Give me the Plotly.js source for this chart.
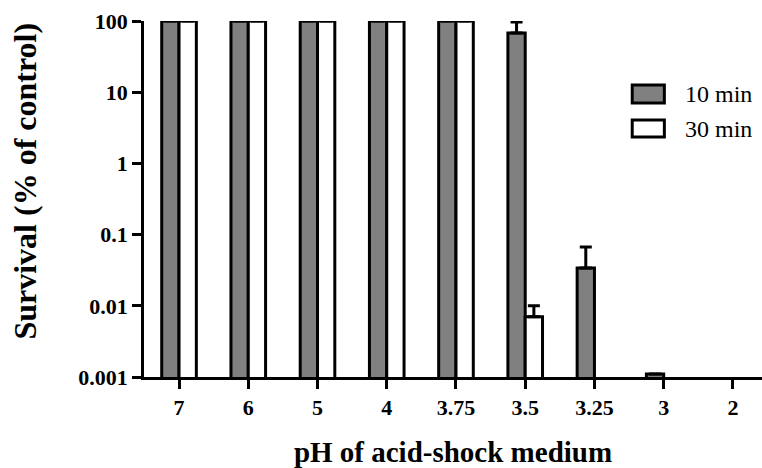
<!DOCTYPE html>
<html>
<head>
<meta charset="utf-8">
<script src="https://cdn.plot.ly/plotly-3.0.1.min.js"></script>
</head>
<body style="margin:0">
<div id="chart"></div>
<script>
// Data
var phLabels = ['7', '6', '5', '4', '3.75', '3.5', '3.25', '3', '2'];
var seriesNames = ['10 min', '30 min'];
var survival10 = [100, 100, 100, 100, 100, 68, 0.034, 0.0011, null];
var survival30 = [100, 100, 100, 100, 100, 0.0070, null, null, null];
var errUp10 = [null, null, null, null, null, 29, 0.033, null, null];
var errUp30 = [null, null, null, null, null, 0.003, null, null, null];
var errDown = [0, 0, 0, 0, 0, 0, 0, 0, 0];
var yTickVals = [0.001, 0.01, 0.1, 1, 10, 100];
var yTickText = ['0.001', '0.01', '0.1', '1', '10', '100'];
var xTitle = 'pH of acid-shock medium';
var yTitle = 'Survival (% of control)';

var FAMILY = 'Liberation Serif';
var fillColors = ['#808080', '#ffffff'];

function errStyle(up) {
  return {
    type: 'data', symmetric: false, array: up, arrayminus: errDown,
    color: '#000000', thickness: 3, width: 6, visible: true
  };
}

var traces = [
  {
    type: 'bar', name: seriesNames[0], x: phLabels, y: survival10,
    marker: { color: fillColors[0], line: { color: '#000000', width: 3 } },
    error_y: errStyle(errUp10), showlegend: false
  },
  {
    type: 'bar', name: seriesNames[1], x: phLabels, y: survival30,
    marker: { color: fillColors[1], line: { color: '#000000', width: 3 } },
    error_y: errStyle(errUp30), showlegend: false
  }
];

// Legend drawn as boxes + labels (large rectangular keys as in the reference)
var shapes = [];
var annotations = [];
var keyY = [[0.770, 0.820], [0.674, 0.722]];
var textY = [0.795, 0.697];
for (var i = 0; i < seriesNames.length; i++) {
  shapes.push({
    type: 'rect', xref: 'paper', yref: 'paper',
    x0: 0.790, x1: 0.842, y0: keyY[i][0], y1: keyY[i][1],
    fillcolor: fillColors[i], line: { color: '#000000', width: 3 }
  });
  annotations.push({
    xref: 'paper', yref: 'paper', x: 0.872, y: textY[i],
    xanchor: 'left', yanchor: 'middle', showarrow: false,
    text: seriesNames[i], font: { family: FAMILY, size: 24, color: '#000000' }
  });
}
// Y-axis title (placed slightly above the axis centre, as in the reference)
annotations.push({
  xref: 'paper', yref: 'paper', x: -0.193, y: 0.551,
  xanchor: 'center', yanchor: 'middle', showarrow: false, textangle: -90,
  text: yTitle, font: { family: FAMILY, size: 32, color: '#000000', weight: 700 }
});

var layout = {
  width: 762, height: 468,
  margin: { l: 144, r: 0, t: 21, b: 91, pad: 0 },
  paper_bgcolor: '#ffffff', plot_bgcolor: '#ffffff',
  font: { family: FAMILY, color: '#000000' },
  barmode: 'group', bargap: 0.5, bargroupgap: 0,
  showlegend: false,
  xaxis: {
    type: 'category', range: [-0.506, 8.42], fixedrange: true,
    showline: true, linecolor: '#000000', linewidth: 2.5,
    ticks: 'outside', ticklen: 9, tickwidth: 2.5, tickcolor: '#000000',
    showgrid: false, zeroline: false, automargin: false,
    tickfont: { family: FAMILY, size: 22, color: '#000000', weight: 700 },
    title: { text: xTitle, standoff: 40,
             font: { family: FAMILY, size: 29, color: '#000000', weight: 700 } }
  },
  yaxis: {
    type: 'log', range: [-3, 2], fixedrange: true,
    tickvals: yTickVals, ticktext: yTickText,
    showline: true, linecolor: '#000000', linewidth: 2.5,
    ticks: 'outside', ticklen: 9, tickwidth: 2.5, tickcolor: '#000000',
    showgrid: false, zeroline: false, automargin: false,
    tickfont: { family: FAMILY, size: 22, color: '#000000', weight: 700 }
  },
  shapes: shapes,
  annotations: annotations
};

Plotly.newPlot('chart', traces, layout, { displayModeBar: false });
</script>
</body>
</html>
